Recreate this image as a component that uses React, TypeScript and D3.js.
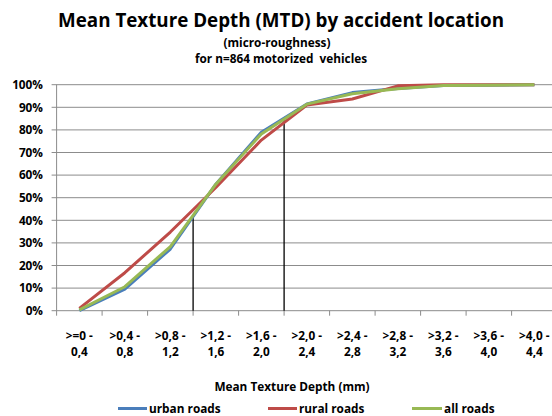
import React from "react";
import * as d3 from "d3";

const categories = [
  [">=0 -", "0,4"],
  [">0,4 -", "0,8"],
  [">0,8 -", "1,2"],
  [">1,2 -", "1,6"],
  [">1,6 -", "2,0"],
  [">2,0 -", "2,4"],
  [">2,4 -", "2,8"],
  [">2,8 -", "3,2"],
  [">3,2 -", "3,6"],
  [">3,6 -", "4,0"],
  [">4,0 -", "4,4"],
];
const urbanRoads = [0, 9.5, 27.3, 56, 79, 91.5, 96.5, 98.3, 99.6, 99.8, 100];
const ruralRoads = [1, 16.8, 34.8, 54.5, 75.5, 91, 93.7, 99.5, 100, 100, 100];
const allRoads = [0.4, 10.6, 28.4, 56, 78.2, 91.4, 96, 98.2, 99.6, 99.8, 100];
const yTicks = [0, 10, 20, 30, 40, 50, 60, 70, 80, 90, 100];
const markerBoundaries = [3, 5];
const markerValues = [41, 84.5];

const series = [
  { name: "urban roads", values: urbanRoads, color: "#4a7ebb" },
  { name: "rural roads", values: ruralRoads, color: "#be4b48" },
  { name: "all roads", values: allRoads, color: "#98b954" },
];

const FONT = "'Open Sans', Lato, sans-serif";

export default function App() {
  const W = 552;
  const H = 416;
  const left = 56.6;
  const step = 45.5;
  const right = left + step * categories.length;
  const top = 84.7;
  const bottom = 310.7;

  const xBand = d3
    .scaleBand<number>()
    .domain(categories.map((_, i) => i))
    .range([left, right])
    .paddingInner(0)
    .paddingOuter(0);
  const xCenter = (i: number) => (xBand(i) as number) + xBand.bandwidth() / 2;
  const xBoundary = d3.scaleLinear().domain([0, categories.length]).range([left, right]);
  const y = d3.scaleLinear().domain([0, 100]).range([bottom, top]);

  const line = d3
    .line<number>()
    .x((_, i) => xCenter(i))
    .y((d) => y(d));

  const legendItems = [
    { x1: 118, x2: 147, tx: 149 },
    { x1: 268, x2: 297, tx: 299 },
    { x1: 412, x2: 442, tx: 444 },
  ];

  return (
    <svg
      width={W}
      height={H}
      style={{ position: "absolute", left: 0, top: 0, background: "#fff" }}
      fontFamily={FONT}
    >
      <rect x={0} y={0} width={W} height={H} fill="#fff" />
      <text x={281} y={26.5} textAnchor="middle" fontWeight="bold" fontSize={18.8} fill="#000">
        Mean Texture Depth (MTD) by accident location
      </text>
      <text x={277} y={46.5} textAnchor="middle" fontWeight="bold" fontSize={11.8} fill="#000">
        (micro-roughness)
      </text>
      <text x={281} y={63} textAnchor="middle" fontWeight="bold" fontSize={11.8} fill="#000">
        {"for n=864 motorized\u00a0 vehicles"}
      </text>

      {/* gridlines */}
      {yTicks.map((t) => (
        <line
          key={"g" + t}
          x1={left - 5}
          x2={right}
          y1={y(t)}
          y2={y(t)}
          stroke="#8c8c8c"
          strokeWidth={1}
        />
      ))}
      {yTicks.map((t) => (
        <text
          key={"yl" + t}
          x={43}
          y={y(t) + 4.3}
          textAnchor="end"
          fontWeight="bold"
          fontSize={11.8}
          fill="#000"
        >
          {t + "%"}
        </text>
      ))}
      {/* axes */}
      <line x1={left} x2={left} y1={top} y2={bottom} stroke="#8c8c8c" strokeWidth={1} />
      {d3.range(categories.length + 1).map((i) => (
        <line
          key={"xt" + i}
          x1={xBoundary(i)}
          x2={xBoundary(i)}
          y1={bottom}
          y2={bottom + 5}
          stroke="#8c8c8c"
          strokeWidth={1}
        />
      ))}
      {categories.map((c, i) => (
        <text key={"xl" + i} textAnchor="middle" fontWeight="bold" fontSize={11.8} fill="#000">
          <tspan x={xCenter(i)} y={339.5}>
            {c[0]}
          </tspan>
          <tspan x={xCenter(i)} y={356}>
            {c[1]}
          </tspan>
        </text>
      ))}
      <text x={292} y={391} textAnchor="middle" fontWeight="bold" fontSize={11.8} fill="#000">
        Mean Texture Depth (mm)
      </text>

      {/* marker lines */}
      {markerBoundaries.map((b, i) => (
        <line
          key={"m" + i}
          x1={xBoundary(b)}
          x2={xBoundary(b)}
          y1={y(markerValues[i])}
          y2={bottom}
          stroke="#000"
          strokeWidth={1.3}
        />
      ))}

      {/* series */}
      {series.map((s) => (
        <path
          key={s.name}
          d={line(s.values) || ""}
          fill="none"
          stroke={s.color}
          strokeWidth={3}
          strokeLinejoin="round"
        />
      ))}

      {/* legend */}
      {series.map((s, i) => (
        <g key={"lg" + i}>
          <line
            x1={legendItems[i].x1}
            x2={legendItems[i].x2}
            y1={408.5}
            y2={408.5}
            stroke={s.color}
            strokeWidth={3}
          />
          <text x={legendItems[i].tx} y={412.5} fontWeight="bold" fontSize={11.8} fill="#000">
            {s.name}
          </text>
        </g>
      ))}
    </svg>
  );
}
